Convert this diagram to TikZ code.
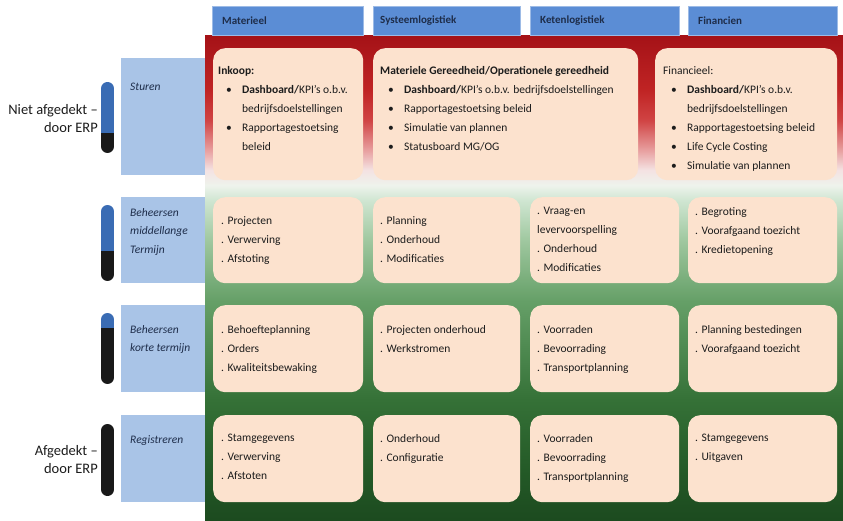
\documentclass[tikz,border=0pt]{standalone}
\usepackage{fontspec}
\setmainfont{Carlito}
\usetikzlibrary{positioning}

\definecolor{headblue}{HTML}{5B8DD5}
\definecolor{rowblue}{HTML}{A9C4E7}
\definecolor{peach}{HTML}{FCE2CE}
\definecolor{pillblue}{HTML}{3A6CB4}
\definecolor{ink}{HTML}{1C1C1C}
\definecolor{navy}{HTML}{1E2D4A}
% background gradient, green at the bottom, red at the top
\definecolor{gA}{HTML}{1C4A1F}
\definecolor{gB}{HTML}{245A27}
\definecolor{gC}{HTML}{357137}
\definecolor{gD}{HTML}{66A068}
\definecolor{gE}{HTML}{A0C8A0}
\definecolor{gF}{HTML}{D0E6D2}
\definecolor{wM}{HTML}{EEF3EC}
\definecolor{rA}{HTML}{F4E2E2}
\definecolor{rB}{HTML}{E8A0A0}
\definecolor{rC}{HTML}{D04444}
\definecolor{rD}{HTML}{C02424}
\definecolor{rE}{HTML}{A51217}
\pgfdeclareverticalshading{redgreen}{100bp}{color(0bp)=(gA); color(25bp)=(gA);
  color(30.3bp)=(gB); color(37.5bp)=(gC); color(47.8bp)=(gD); color(54bp)=(gE);
  color(58.1bp)=(gF); color(59.6bp)=(wM); color(61.2bp)=(rA); color(63.2bp)=(rB);
  color(66.3bp)=(rC); color(69.4bp)=(rD); color(75bp)=(rE); color(100bp)=(rE)}

\newcommand{\bul}{\hspace*{8pt}\makebox[16pt][l]{\textbullet}}
\newcommand{\ind}{\hspace*{24pt}}

\tikzset{
  head/.style    ={fill=headblue, draw=headblue!60!white, minimum height=29pt, inner sep=0pt},
  headtxt/.style ={font=\fontsize{11}{13}\selectfont\bfseries, text=navy, inner sep=0pt},
  rowbox/.style  ={fill=rowblue, minimum width=84pt, inner sep=0pt},
  rowtxt/.style  ={font=\fontsize{11.5}{18.5}\selectfont\itshape, text=navy, align=left, inner sep=0pt},
  cell/.style    ={fill=peach, rounded corners=12pt, inner sep=0pt},
  celltxt/.style ={font=\fontsize{11.5}{19}\selectfont, text=ink, align=left, inner sep=0pt},
  side/.style    ={font=\fontsize{14.5}{18}\selectfont, text=ink, align=right, inner sep=0pt}
}

\begin{document}
\begin{tikzpicture}[x=1pt, y=-1pt]
    \useasboundingbox (0,0) rectangle (843,521);

    % background
    \shade[shading=redgreen] (205,36) rectangle (843,521);

    % column heads
    \node[head, anchor=north west, minimum width=151pt] (hMat) at (212,6) {};
    \node[head, anchor=north west, minimum width=147pt] (hSys) at (373,6) {};
    \node[head, anchor=north west, minimum width=149pt] (hKet) at (530,6) {};
    \node[head, anchor=north west, minimum width=149pt] (hFin) at (688,6) {};
    \node[headtxt, right=10pt of hMat.west] (tMat) {Materieel};
    \node[headtxt, right=7pt of hSys.west] (tSys) {Systeemlogistiek};
    \node[headtxt, right=10pt of hKet.west] (tKet) {Ketenlogistiek};
    \node[headtxt, right=10pt of hFin.west] (tFin) {Financien};

    % row labels
    \node[rowbox, anchor=north west, minimum height=117pt] (rStu) at (121,58) {};
    \node[rowbox, anchor=north west, minimum height=86pt] (rMid) at (121,197) {};
    \node[rowbox, anchor=north west, minimum height=87pt] (rKor) at (121,305) {};
    \node[rowbox, anchor=north west, minimum height=87pt] (rReg) at (121,415) {};
    \node[rowtxt, below right=25pt and 9pt of rStu.north west] (tStu) {Sturen};
    \node[rowtxt, below right=11pt and 9pt of rMid.north west] (tMid) {Beheersen\\middellange\\Termijn};
    \node[rowtxt, below right=20pt and 9pt of rKor.north west] (tKor) {Beheersen\\korte termijn};
    \node[rowtxt, below right=20pt and 9pt of rReg.north west] (tReg) {Registreren};

    % pills
    \foreach \t/\m/\b in {82/133/153, 205/251/281, 313/328/384, 424/424/496} {
      \begin{scope}
        \clip[rounded corners=6.5pt] (101,\t) rectangle (114,\b);
        \fill[pillblue] (101,\t) rectangle (114,\m);
        \fill[black!90] (101,\m) rectangle (114,\b);
      \end{scope}
    }
    \node[side, anchor=east] (niet) at (98,119) {Niet afgedekt –\\door ERP};
    \node[side, anchor=east] (afg) at (98,460) {Afgedekt –\\door ERP};

    % sturen
    \node[cell, anchor=north west, minimum width=150pt, minimum height=132pt] (inkoop) at (213,48) {};
    \node[cell, anchor=north west, minimum width=265pt, minimum height=132pt] (mg) at (373,48) {};
    \node[cell, anchor=north west, minimum width=182pt, minimum height=132pt] (fin) at (655,48) {};
    \node[celltxt, below right=18pt and 5pt of inkoop.north west] (tInk) {\textbf{Inkoop:}\\
      \bul\textbf{Dashboard/}KPI's o.b.v.\\ \ind bedrijfsdoelstellingen\\
      \bul Rapportagestoetsing\\ \ind beleid};
    \node[celltxt, below right=18pt and 7pt of mg.north west] (tMg) {\textbf{Materiele Gereedheid/Operationele gereedheid}\\
      \bul\textbf{Dashboard/}KPI's o.b.v. bedrijfsdoelstellingen\\
      \bul Rapportagestoetsing beleid\\ \bul Simulatie van plannen\\ \bul Statusboard MG/OG};
    \node[celltxt, below right=18pt and 8pt of fin.north west] (tFin) {Financieel:\\
      \bul\textbf{Dashboard/}KPI's o.b.v.\\ \ind bedrijfsdoelstellingen\\
      \bul Rapportagestoetsing beleid\\ \bul Life Cycle Costing\\ \bul Simulatie van plannen};

    % beheersen middellange termijn
    \node[cell, anchor=north west, minimum width=150pt, minimum height=86pt] (c21) at (213,197) {};
    \node[cell, anchor=north west, minimum width=147pt, minimum height=86pt] (c22) at (373,197) {};
    \node[cell, anchor=north west, minimum width=149pt, minimum height=86pt] (c23) at (530,197) {};
    \node[cell, anchor=north west, minimum width=149pt, minimum height=86pt] (c24) at (688,197) {};
    \node[celltxt, below right=19pt and 8pt of c21.north west] (t21) {. Projecten\\. Verwerving\\. Afstoting};
    \node[celltxt, below right=19pt and 7pt of c22.north west] (t22) {. Planning\\. Onderhoud\\. Modificaties};
    \node[celltxt, below right=10pt and 7pt of c23.north west] (t23) {. Vraag-en\\levervoorspelling\\. Onderhoud\\. Modificaties};
    \node[celltxt, below right=10pt and 7pt of c24.north west] (t24) {. Begroting\\. Voorafgaand toezicht\\. Kredietopening};

    % beheersen korte termijn
    \node[cell, anchor=north west, minimum width=150pt, minimum height=87pt] (c31) at (213,305) {};
    \node[cell, anchor=north west, minimum width=147pt, minimum height=87pt] (c32) at (373,305) {};
    \node[cell, anchor=north west, minimum width=149pt, minimum height=87pt] (c33) at (530,305) {};
    \node[cell, anchor=north west, minimum width=149pt, minimum height=87pt] (c34) at (688,305) {};
    \node[celltxt, below right=20pt and 8pt of c31.north west] (t31) {. Behoefteplanning\\. Orders\\. Kwaliteitsbewaking};
    \node[celltxt, below right=20pt and 7pt of c32.north west] (t32) {. Projecten onderhoud\\. Werkstromen};
    \node[celltxt, below right=20pt and 7pt of c33.north west] (t33) {. Voorraden\\. Bevoorrading\\. Transportplanning};
    \node[celltxt, below right=20pt and 7pt of c34.north west] (t34) {. Planning bestedingen\\. Voorafgaand toezicht};

    % registreren
    \node[cell, anchor=north west, minimum width=150pt, minimum height=87pt] (c41) at (213,415) {};
    \node[cell, anchor=north west, minimum width=147pt, minimum height=87pt] (c42) at (373,415) {};
    \node[cell, anchor=north west, minimum width=149pt, minimum height=87pt] (c43) at (530,415) {};
    \node[cell, anchor=north west, minimum width=149pt, minimum height=87pt] (c44) at (688,415) {};
    \node[celltxt, below right=19pt and 8pt of c41.north west] (t41) {. Stamgegevens\\. Verwerving\\. Afstoten};
    \node[celltxt, below right=19pt and 7pt of c42.north west] (t42) {. Onderhoud\\. Configuratie};
    \node[celltxt, below right=19pt and 7pt of c43.north west] (t43) {. Voorraden\\. Bevoorrading\\. Transportplanning};
    \node[celltxt, below right=19pt and 7pt of c44.north west] (t44) {. Stamgegevens\\. Uitgaven};
\end{tikzpicture}
\end{document}
